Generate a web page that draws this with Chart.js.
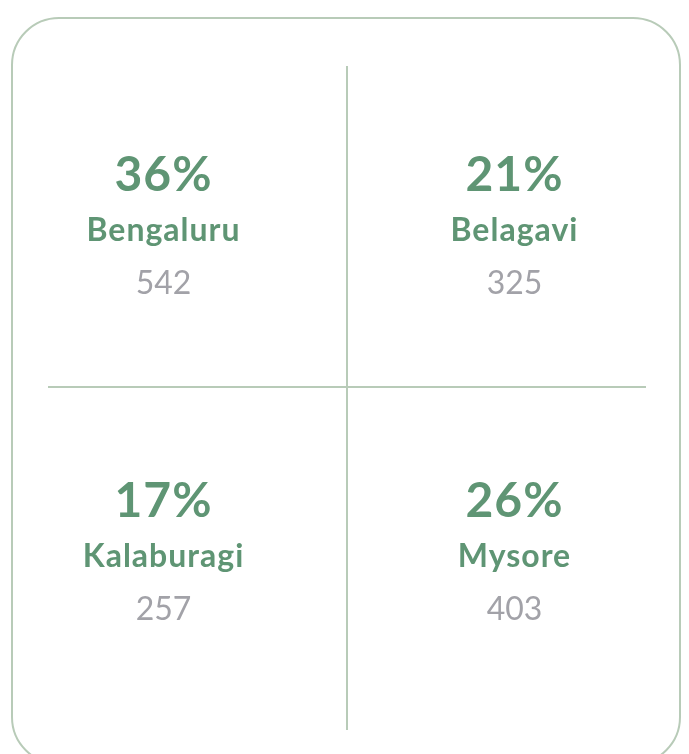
<!DOCTYPE html>
<html>
<head>
<meta charset="utf-8">
<script src="https://cdn.jsdelivr.net/npm/chart.js@4.4.1/dist/chart.umd.min.js"></script>
<style>
  html, body { margin: 0; padding: 0; background: #fff; overflow: hidden; }
  #wrap { position: relative; width: 689px; height: 754px; }
  #card {
    position: absolute; left: 11px; top: 17px; width: 666px; height: 744px;
    border: 2px solid #b8cbb8; border-radius: 48px; box-sizing: content-box;
  }
  #region-chart { position: absolute; left: 0; top: 0; }
</style>
</head>
<body>
<div id="wrap">
  <div id="card"></div>
  <canvas id="region-chart" width="689" height="754"></canvas>
</div>
<script>
var cities = ["Bengaluru", "Belagavi", "Kalaburagi", "Mysore"];
var shares = [36, 21, 17, 26];
var counts = [542, 325, 257, 403];

var green = "#5f9574";
var grey = "#a2a2a8";
var lineColor = "#b8cbb8";

// cells go left-to-right, top row first
var points = [];
for (var i = 0; i < cities.length; i++) {
  points.push({ x: (i % 2) + 0.5, y: 1 - Math.floor(i / 2) + 0.5 });
}

var cellText = {
  id: "cellText",
  afterDatasetsDraw: function (chart) {
    var ctx = chart.ctx;
    var meta = chart.getDatasetMeta(0);
    ctx.save();
    ctx.textAlign = "center";
    ctx.textBaseline = "alphabetic";
    meta.data.forEach(function (pt, i) {
      var cx = pt.x - 8;
      var cy = pt.y;
      ctx.fillStyle = green;
      ctx.letterSpacing = "1px";
      ctx.font = "bold 48px Lato";
      ctx.fillText(shares[i] + "%", cx, cy - 33);
      ctx.font = "bold 32px Lato";
      ctx.fillText(cities[i], cx, cy + 17);
      ctx.letterSpacing = "0px";
      ctx.fillStyle = grey;
      ctx.font = "32px Lato";
      ctx.fillText(String(counts[i]), cx, cy + 70);
    });
    ctx.restore();
  }
};

function onlyMiddle(scale) {
  scale.ticks = [{ value: 1 }];
}

new Chart(document.getElementById("region-chart"), {
  type: "scatter",
  data: {
    datasets: [{
      data: points,
      pointRadius: 0,
      pointHoverRadius: 0
    }]
  },
  options: {
    responsive: false,
    animation: false,
    events: [],
    layout: { padding: { left: 48, right: 43, top: 66, bottom: 24 } },
    plugins: {
      legend: { display: false },
      tooltip: { enabled: false }
    },
    scales: {
      x: {
        min: 0.148, max: 1.852,
        afterBuildTicks: onlyMiddle,
        ticks: { display: false },
        border: { display: false },
        grid: { color: lineColor, lineWidth: 2, drawTicks: false }
      },
      y: {
        min: -0.0505, max: 1.983,
        afterBuildTicks: onlyMiddle,
        ticks: { display: false },
        border: { display: false },
        grid: { color: lineColor, lineWidth: 2, drawTicks: false }
      }
    }
  },
  plugins: [cellText]
});
</script>
</body>
</html>
